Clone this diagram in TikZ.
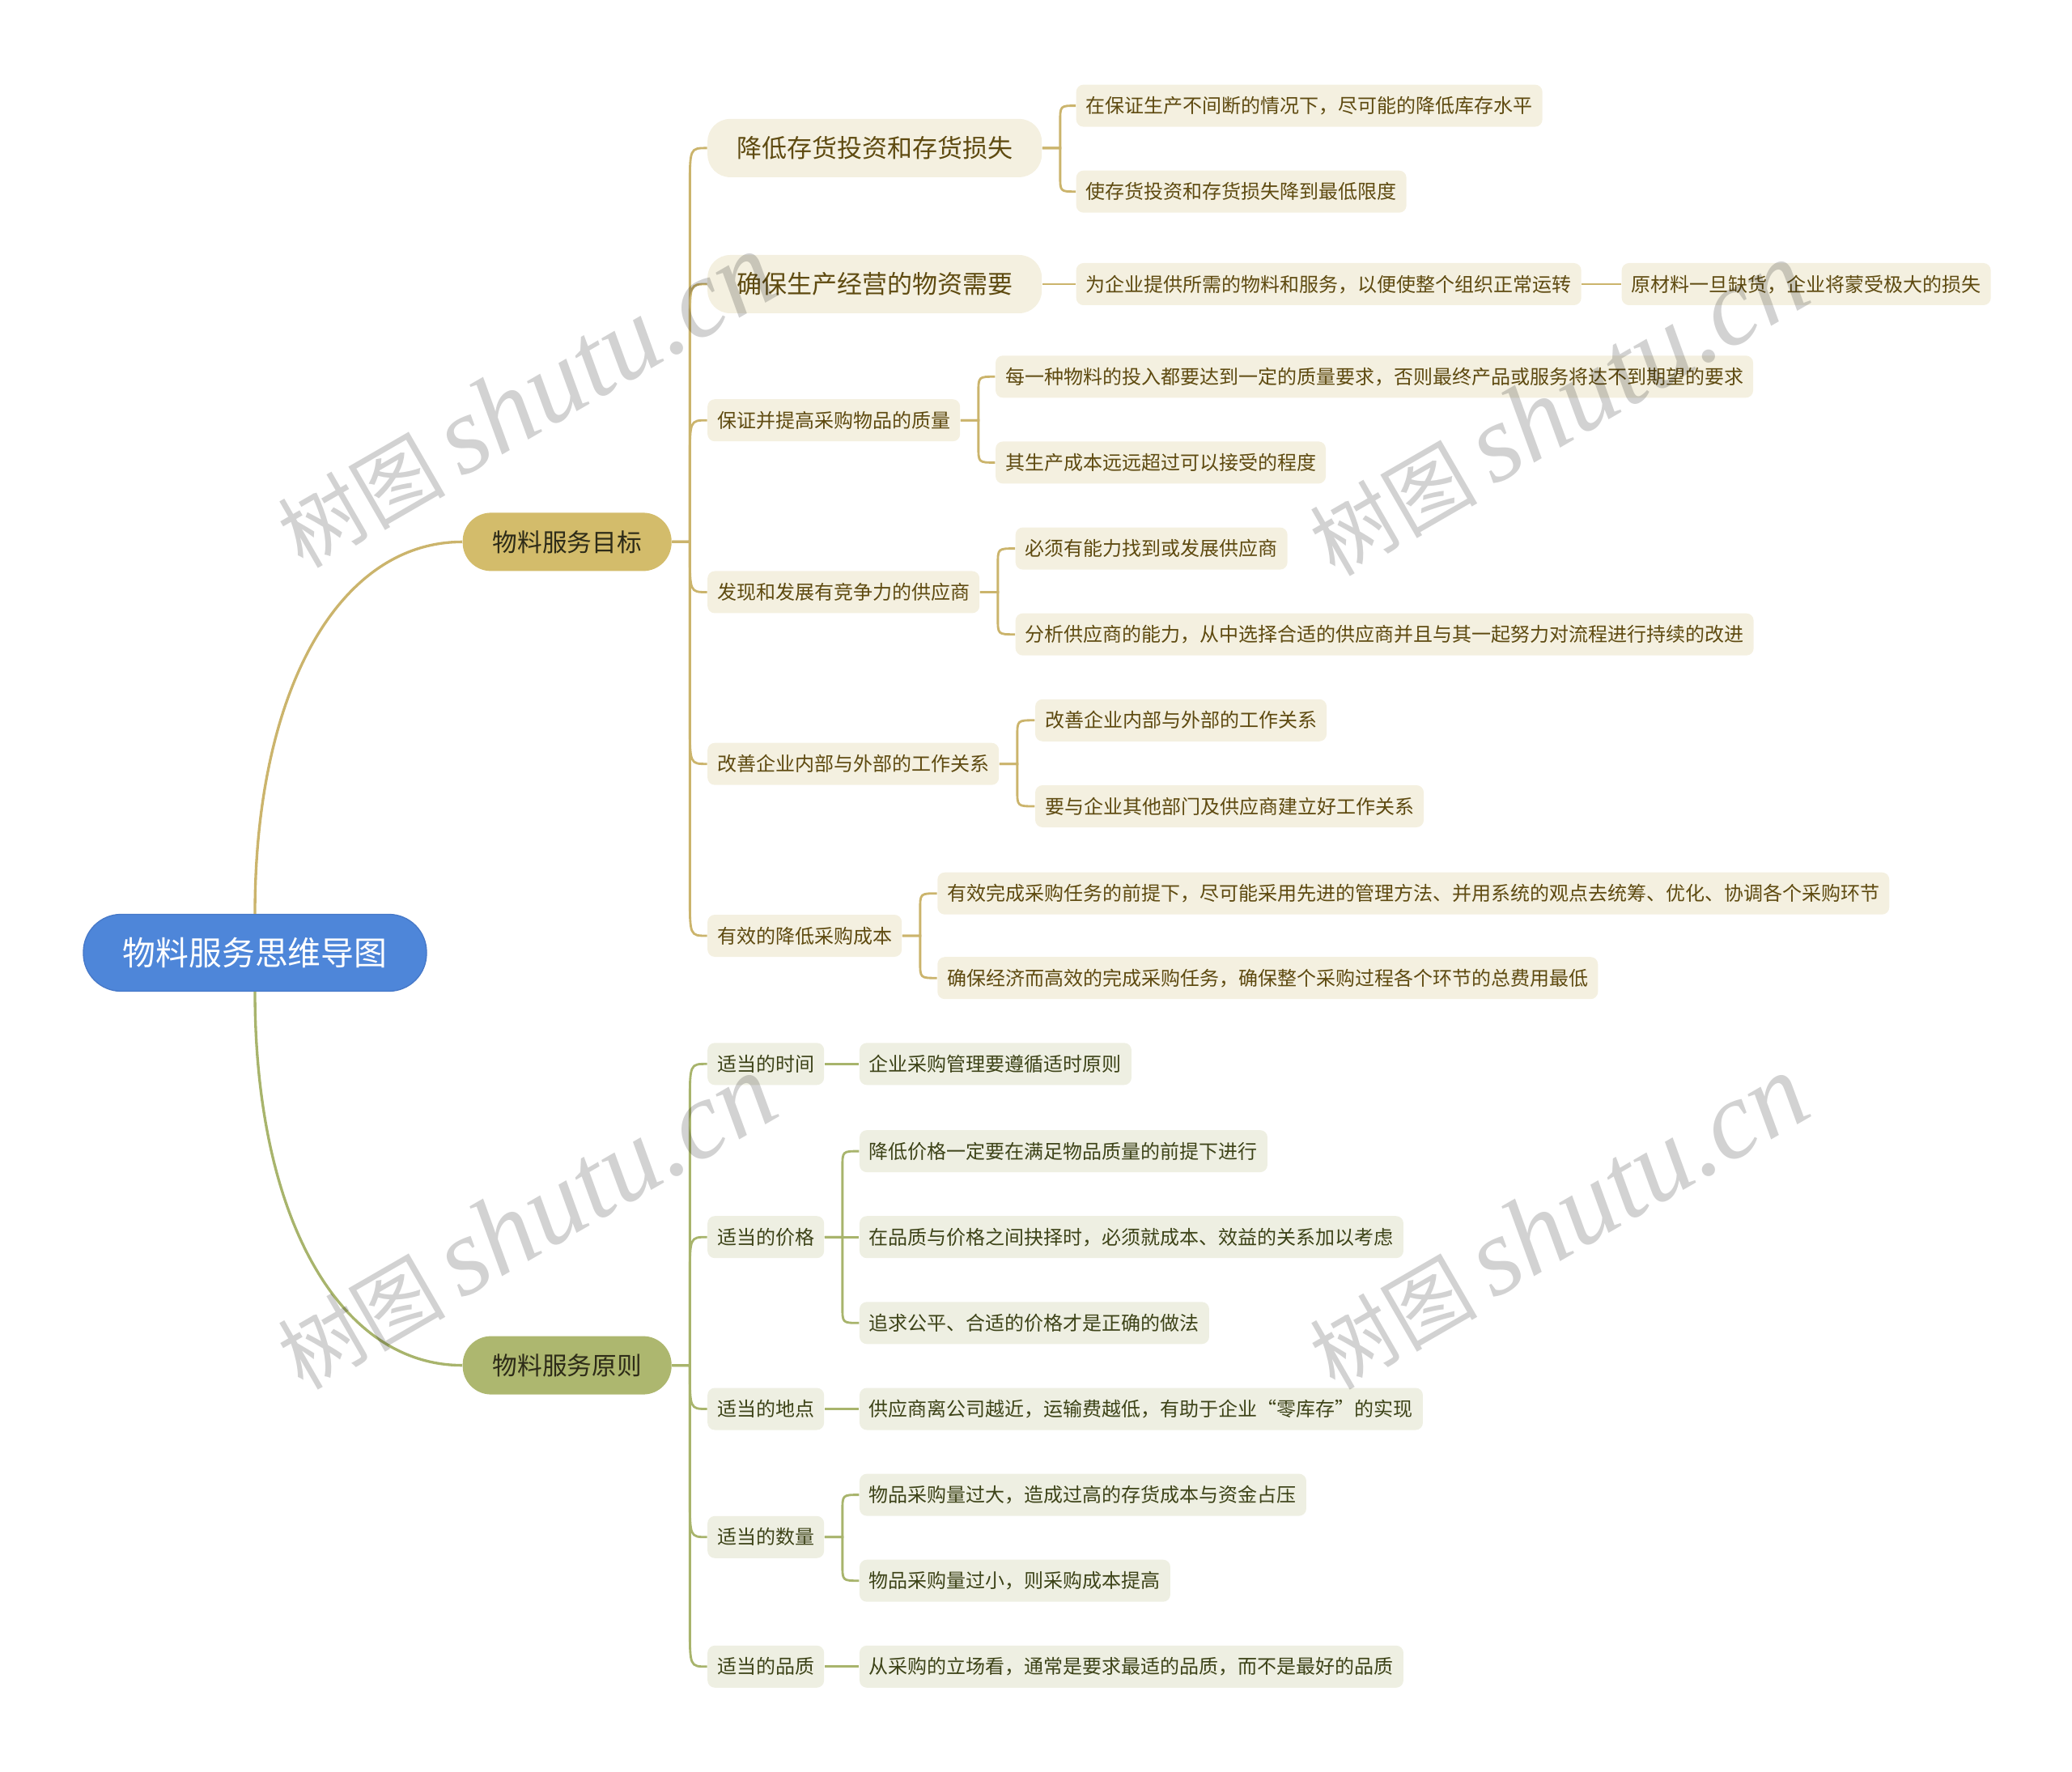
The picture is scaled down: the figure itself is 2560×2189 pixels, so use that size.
\documentclass[tikz,border=0pt]{standalone}
\usepackage{fontspec}
\setmainfont{Noto Sans CJK SC}
\newfontfamily\wmlat{Liberation Serif}
\newfontfamily\wmcjk{Noto Sans CJK SC}
\usetikzlibrary{calc}
\definecolor{rootblue}{HTML}{4E86D9}
\definecolor{rootborder}{HTML}{4678C8}
\definecolor{goldpill}{HTML}{D3BC6B}
\definecolor{goldline}{HTML}{CBB46C}
\definecolor{gfill}{HTML}{F4F0E0}
\definecolor{gtext}{HTML}{5E4A10}
\definecolor{olivepill}{HTML}{ADB76F}
\definecolor{oliveline}{HTML}{A8B46C}
\definecolor{ofill}{HTML}{EEEFE2}
\definecolor{otext}{HTML}{3D4318}
\definecolor{ltext}{HTML}{2D2B18}
\definecolor{wmgray}{HTML}{D2D2D2}
\newcommand\mmlink[4]{\draw[#1] (#2.east) -- ++(22,0) coordinate (mmtmp) -- ($(mmtmp |- #3.west)+(0,#4)$) .. controls (mmtmp |- #3.west) .. (#3.west);}
\newcommand\wmtext{{\wmcjk\fontsize{31pt}{31pt}\selectfont 树图}\hspace{6pt}{\wmlat\itshape\fontsize{41pt}{41pt}\selectfont shutu.cn}}
\tikzset{
  smallbox/.style={rounded corners=2.7pt, inner xsep=3.6pt, inner ysep=0pt, minimum height=15.6pt, anchor=west,
    font=\fontsize{7.2pt}{8pt}\selectfont, text height=6.34pt, text depth=0.86pt},
  gsmall/.style={smallbox, fill=gfill, text=gtext},
  osmall/.style={smallbox, fill=ofill, text=otext},
  gbig/.style={rounded corners=8.4pt, inner xsep=10.8pt, inner ysep=0pt, minimum height=21.6pt, anchor=west,
    fill=gfill, text=gtext, font=\fontsize{9.3pt}{10pt}\selectfont, text height=8.18pt, text depth=1.12pt},
  lonebox/.style={rounded corners=10.5pt, inner xsep=11.1pt, inner ysep=0pt, minimum height=21.6pt, anchor=west,
    text=ltext, font=\fontsize{9.2pt}{10pt}\selectfont, text height=8.1pt, text depth=1.1pt},
  rootbox/.style={rounded corners=14pt, inner sep=0pt, minimum height=28.5pt, minimum width=127.2pt,
    fill=rootblue, draw=rootborder, line width=0.4pt, text=white, font=\fontsize{12.25pt}{13pt}\selectfont,
    text height=10.8pt, text depth=1.5pt},
  glink/.style={draw=goldline, line width=0.85pt},
  olink/.style={draw=oliveline, line width=0.85pt},
  wm/.style={text=wmgray, rotate=30, inner sep=0pt, blend mode=multiply},
}
\begin{document}
\begin{tikzpicture}[x=0.3pt,y=-0.3pt]
\useasboundingbox (0,0) rectangle (2560,2189);
% root and level 1
\node[rootbox] (root) at (315,1177) {物料服务思维导图};
\node[lonebox, fill=goldpill] (la) at (571,669.4) {物料服务目标};
\node[lonebox, fill=olivepill] (lb) at (571,1686.6) {物料服务原则};
% gold level 2
\node[gbig] (g1) at (873.5,182.9) {降低存货投资和存货损失};
\node[gbig] (g2) at (873.5,351) {确保生产经营的物资需要};
\node[gsmall] (g3) at (873.5,519.2) {保证并提高采购物品的质量};
\node[gsmall] (g4) at (873.5,731.5) {发现和发展有竞争力的供应商};
\node[gsmall] (g5) at (873.5,943.7) {改善企业内部与外部的工作关系};
\node[gsmall] (g6) at (873.5,1156) {有效的降低采购成本};
% gold level 3
\node[gsmall] (g1a) at (1329,130.6) {在保证生产不间断的情况下，尽可能的降低库存水平};
\node[gsmall] (g1b) at (1329,236.7) {使存货投资和存货损失降到最低限度};
\node[gsmall] (g2a) at (1329,351) {为企业提供所需的物料和服务，以便使整个组织正常运转};
\node[gsmall] (g2b) at (2003,351) {原材料一旦缺货，企业将蒙受极大的损失};
\node[gsmall] (g3a) at (1229.4,465.3) {每一种物料的投入都要达到一定的质量要求，否则最终产品或服务将达不到期望的要求};
\node[gsmall] (g3b) at (1229.4,571.4) {其生产成本远远超过可以接受的程度};
\node[gsmall] (g4a) at (1254,677.6) {必须有能力找到或发展供应商};
\node[gsmall] (g4b) at (1254,783.7) {分析供应商的能力，从中选择合适的供应商并且与其一起努力对流程进行持续的改进};
\node[gsmall] (g5a) at (1278.4,889.8) {改善企业内部与外部的工作关系};
\node[gsmall] (g5b) at (1278.4,996) {要与企业其他部门及供应商建立好工作关系};
\node[gsmall] (g6a) at (1157.6,1103.7) {有效完成采购任务的前提下，尽可能采用先进的管理方法、并用系统的观点去统筹、优化、协调各个采购环节};
\node[gsmall] (g6b) at (1157.6,1208.2) {确保经济而高效的完成采购任务，确保整个采购过程各个环节的总费用最低};
% olive level 2
\node[osmall] (o1) at (873.5,1314.3) {适当的时间};
\node[osmall] (o2) at (873.5,1528.2) {适当的价格};
\node[osmall] (o3) at (873.5,1740.5) {适当的地点};
\node[osmall] (o4) at (873.5,1898.8) {适当的数量};
\node[osmall] (o5) at (873.5,2058.8) {适当的品质};
% olive level 3
\node[osmall] (o1a) at (1061.3,1314.3) {企业采购管理要遵循适时原则};
\node[osmall] (o2a) at (1061.3,1422.1) {降低价格一定要在满足物品质量的前提下进行};
\node[osmall] (o2b) at (1061.3,1528.2) {在品质与价格之间抉择时，必须就成本、效益的关系加以考虑};
\node[osmall] (o2c) at (1061.3,1634.3) {追求公平、合适的价格才是正确的做法};
\node[osmall] (o3a) at (1061.3,1740.5) {供应商离公司越近，运输费越低，有助于企业“零库存”的实现};
\node[osmall] (o4a) at (1061.3,1846.6) {物品采购量过大，造成过高的存货成本与资金占压};
\node[osmall] (o4b) at (1061.3,1952.7) {物品采购量过小，则采购成本提高};
\node[osmall] (o5a) at (1061.3,2058.8) {从采购的立场看，通常是要求最适的品质，而不是最好的品质};
% root links
\draw[goldline, line width=1pt] (root.north) .. controls (315,850) and (420,669.4) .. (la.west);
\draw[oliveline, line width=1pt] (root.south) .. controls (315,1505) and (420,1686.6) .. (lb.west);
% level 1 -> level 2
\mmlink{glink}{la}{g1}{50}
\mmlink{glink}{la}{g2}{50}
\mmlink{glink}{la}{g3}{50}
\mmlink{glink}{la}{g4}{-50}
\mmlink{glink}{la}{g5}{-50}
\mmlink{glink}{la}{g6}{-50}
\mmlink{olink}{lb}{o1}{50}
\mmlink{olink}{lb}{o2}{50}
\mmlink{olink}{lb}{o3}{-50}
\mmlink{olink}{lb}{o4}{-50}
\mmlink{olink}{lb}{o5}{-50}
% level 2 -> level 3
\mmlink{glink}{g1}{g1a}{20}
\mmlink{glink}{g1}{g1b}{-20}
\draw[glink] (g2.east) -- (g2a.west);
\draw[glink] (g2a.east) -- (g2b.west);
\mmlink{glink}{g3}{g3a}{20}
\mmlink{glink}{g3}{g3b}{-20}
\mmlink{glink}{g4}{g4a}{20}
\mmlink{glink}{g4}{g4b}{-20}
\mmlink{glink}{g5}{g5a}{20}
\mmlink{glink}{g5}{g5b}{-20}
\mmlink{glink}{g6}{g6a}{20}
\mmlink{glink}{g6}{g6b}{-20}
\draw[olink] (o1.east) -- (o1a.west);
\mmlink{olink}{o2}{o2a}{20}
\draw[olink] (o2.east) -- (o2b.west);
\mmlink{olink}{o2}{o2c}{-20}
\draw[olink] (o3.east) -- (o3a.west);
\mmlink{olink}{o4}{o4a}{20}
\mmlink{olink}{o4}{o4b}{-20}
\draw[olink] (o5.east) -- (o5a.west);
% watermarks
\node[wm] (wm1) at (650,495) {\wmtext};
\node[wm] (wm2) at (1925,505) {\wmtext};
\node[wm] (wm3) at (650,1510) {\wmtext};
\node[wm] (wm4) at (1925,1510) {\wmtext};
\end{tikzpicture}
\end{document}
